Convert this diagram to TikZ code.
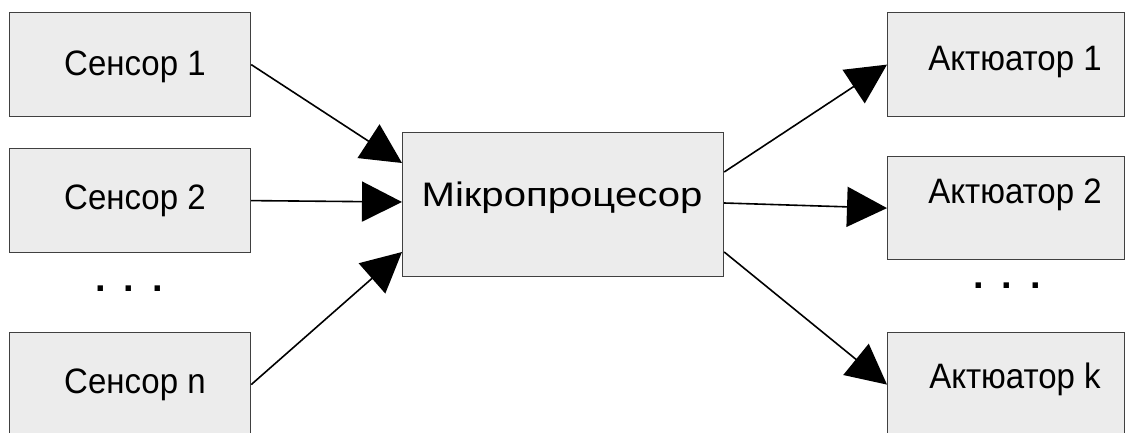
\documentclass[tikz,border=0pt]{standalone}
\usepackage{fontspec}
\usepackage{graphicx}
\setmainfont{Liberation Sans}
\usetikzlibrary{arrows.meta,calc}
\definecolor{boxfill}{HTML}{ECECEC}
\definecolor{boxline}{HTML}{404040}
\newcommand{\tallt}[1]{\scalebox{1}[1.07]{#1}}
\begin{document}
\begin{tikzpicture}[x=1pt,y=-1pt,
  box/.style={draw=boxline, line width=1.2pt, fill=boxfill, inner sep=0pt, anchor=north west, minimum width=#1},
  lbl/.style={anchor=base, inner sep=0pt, font=\fontsize{33}{40}\selectfont},
  dots/.style={anchor=base, inner sep=0pt, font=\fontsize{38}{40}\selectfont\bfseries},
  conn/.style={line width=1.6pt, -{Triangle[length=40pt,width=40pt]}}]
\useasboundingbox (0,0) rectangle (1125,432);
\clip (0,0) rectangle (1125,432);
% sensors
\node[box=241pt, minimum height=104pt] (s1) at (9,12) {};
\node[box=241pt, minimum height=104pt] (s2) at (9,148) {};
\node[box=241pt, minimum height=104pt] (sn) at (9,332) {};
% microprocessor
\node[box=321pt, minimum height=144pt] (m) at (402,132) {};
% actuators
\node[box=237pt, minimum height=104pt] (a1) at (887,12) {};
\node[box=237pt, minimum height=103pt] (a2) at (887,156) {};
\node[box=237pt, minimum height=104pt] (ak) at (887,332) {};
% labels
\node[lbl] (t1) at (135,75) {\tallt{Сенсор 1}};
\node[lbl] (t2) at (135,209) {\tallt{Сенсор 2}};
\node[lbl] (tn) at (135,393) {\tallt{Сенсор n}};
\node[lbl, font=\fontsize{34}{40}\selectfont] (tm) at (562,206) {\scalebox{1.18}[1]{Мікропроцесор}};
\node[lbl] (ta1) at (1015,70) {\tallt{Актюатор 1}};
\node[lbl] (ta2) at (1015,203) {\tallt{Актюатор 2}};
\node[lbl] (tak) at (1015,388) {\tallt{Актюатор k}};
\node[dots] (d1) at (129,291) {.\kern18pt.\kern18pt.};
\node[dots] (d2) at (1007,288) {.\kern18pt.\kern18pt.};
% connectors
\draw[conn] (s1.east) -- ($(m.north west)+(0,31)$);
\draw[conn] (s2.east) -- ($(m.north west)+(0,70)$);
\draw[conn] (sn.east) -- ($(m.north west)+(0,120)$);
\draw[conn] ($(m.north east)+(0,40)$) -- (a1.west);
\draw[conn] ($(m.north east)+(0,71)$) -- (a2.west);
\draw[conn] ($(m.north east)+(0,120)$) -- (ak.west);
\end{tikzpicture}
\end{document}
